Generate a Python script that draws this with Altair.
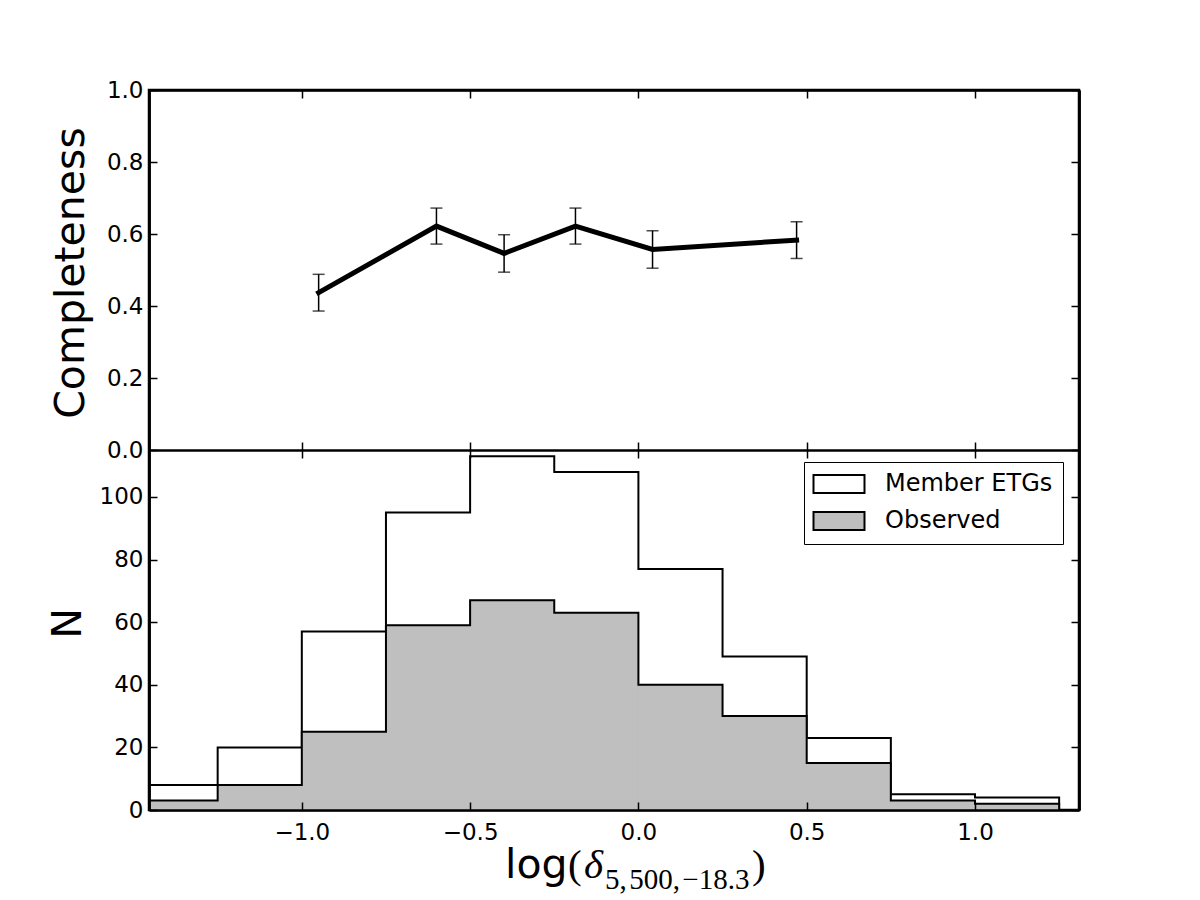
import altair as alt
import pandas as pd

# Histogram of log density: bin edges and counts per bin
bin_edges = [-1.5, -1.25, -1.0, -0.75, -0.5, -0.25, 0.0, 0.25, 0.5, 0.75, 1.0, 1.25]
member_counts = [8, 20, 57, 95, 113, 108, 77, 49, 23, 5, 4]
observed_counts = [3, 8, 25, 59, 67, 63, 40, 30, 15, 3, 2]
series_names = ["Member ETGs", "Observed"]
series_fills = ["white", "#bfbfbf"]

# Completeness as a function of density, with errors
comp_x = [-0.950, -0.600, -0.399, -0.187, 0.042, 0.470]
comp_y = [0.437, 0.622, 0.546, 0.622, 0.557, 0.583]
comp_err = [0.051, 0.050, 0.052, 0.050, 0.052, 0.051]

x_ticks = [-1.0, -0.5, 0.0, 0.5, 1.0]
comp_ticks = [0.0, 0.2, 0.4, 0.6, 0.8, 1.0]
count_ticks = [0, 20, 40, 60, 80, 100]

W, H = 930, 720
HALF = H / 2
FONT = "DejaVu Sans"
SERIF = "Liberation Serif"
TICK_FONT_SIZE = 23

x_scale = alt.Scale(domain=[-1.454, 1.309], nice=False, zero=False)
comp_scale = alt.Scale(domain=[-1.0, 1.0], nice=False, zero=False)   # upper half holds 0..1
count_scale = alt.Scale(domain=[0, 230], nice=False, zero=True)      # lower half holds 0..115
fill_scale = alt.Scale(domain=series_names, range=series_fills)


def tick_axis(orient, offset, values, domain=True):
    # tick-only axis, shifted so its ticks point into the frame; its domain line
    # redraws the frame edge above the histogram fills
    return alt.Axis(orient=orient, offset=offset, values=values, labels=False, ticks=True,
                    tickSize=8, tickWidth=1.5, tickColor="black", domain=domain,
                    domainColor="black", domainWidth=2.5, grid=False, title=None, zindex=1)


def label_axis(orient, values, fmt, padding, **kw):
    return alt.Axis(orient=orient, values=values, format=fmt, ticks=False, domain=False,
                    grid=False, labelFont=FONT, labelFontSize=TICK_FONT_SIZE, labelColor="black",
                    labelPadding=padding, zindex=1, **kw)


def y_title(text, tx, ty):
    return dict(title=text, titleX=tx, titleY=ty, titleAngle=270, titleAlign="center",
                titleBaseline="alphabetic", titleFont=FONT, titleFontSize=41,
                titleFontWeight="normal", titleColor="black")


def outline(name, counts):
    # closed step path around a histogram
    xs = [bin_edges[0]] + bin_edges[:-1] + [bin_edges[-1], bin_edges[-1]]
    ns = [0] + counts + [counts[-1], 0]
    return pd.DataFrame({"series": name, "x": xs, "n": ns, "order": range(len(xs))})


def bins(name, counts):
    return pd.DataFrame({"series": name, "left": bin_edges[:-1], "right": bin_edges[1:],
                         "n": counts, "base": [0] * len(counts)})


legend = alt.Legend(orient="none", legendX=655, legendY=372, title=None, direction="vertical",
                    symbolType="M-2.833,-1H2.833V1H-2.833Z", symbolSize=324, symbolOffset=13,
                    symbolStrokeColor="black", symbolStrokeWidth=2, symbolOpacity=1,
                    labelFont=FONT, labelFontSize=24, labelColor="black", labelOffset=34,
                    labelLimit=400, padding=10, rowPadding=11, strokeColor="black",
                    fillColor="white", zindex=1)

comp_df = pd.DataFrame({
    "x": comp_x,
    "c": comp_y,
    "lo": [v - e for v, e in zip(comp_y, comp_err)],
    "hi": [v + e for v, e in zip(comp_y, comp_err)],
})
caps_df = pd.DataFrame({
    "x": comp_x + comp_x,
    "end": list(comp_df["lo"]) + list(comp_df["hi"]),
})

comp_line = alt.Chart(comp_df).mark_line(color="black", strokeWidth=5, strokeCap="square").encode(
    x=alt.X("x:Q", scale=x_scale, axis=tick_axis("bottom", -H, x_ticks)),
    y=alt.Y("c:Q", scale=comp_scale,
            axis=label_axis("left", comp_ticks, ".1f", 6, **y_title("Completeness", -66, 182.5))),
)
comp_bars = alt.Chart(comp_df).mark_rule(color="black", strokeWidth=1.5).encode(
    x=alt.X("x:Q", scale=x_scale, axis=tick_axis("top", -HALF, x_ticks, domain=False)),
    y=alt.Y("lo:Q", scale=comp_scale, axis=tick_axis("right", -W, comp_ticks)),
    y2="hi:Q",
)
comp_caps = alt.Chart(caps_df).mark_tick(orient="horizontal", size=12, thickness=1.5, color="black").encode(
    x=alt.X("x:Q", scale=x_scale, axis=tick_axis("bottom", -HALF, x_ticks)),
    y=alt.Y("end:Q", scale=comp_scale, axis=tick_axis("left", -W, comp_ticks)),
)

member_fill = alt.Chart(bins(series_names[0], member_counts)).mark_rect(
    clip=True, opacity=1, strokeWidth=0
).encode(
    x=alt.X("left:Q", scale=x_scale, axis=label_axis("bottom", x_ticks, ".1f", 11, title=None)),
    x2="right:Q",
    y=alt.Y("n:Q", scale=count_scale,
            axis=label_axis("left", count_ticks, "d", 6, **y_title("N", -69, 533))),
    y2="base:Q",
    fill=alt.Fill("series:N", scale=fill_scale, legend=legend),
)
member_line = alt.Chart(outline(series_names[0], member_counts)).mark_line(
    interpolate="step-after", color="black", strokeWidth=2, clip=True
).encode(
    x=alt.X("x:Q", scale=x_scale, axis=tick_axis("top", -H, x_ticks)),
    y=alt.Y("n:Q", scale=count_scale, axis=tick_axis("right", -W, count_ticks)),
    order=alt.Order("order:Q"),
)
observed_fill = alt.Chart(bins(series_names[1], observed_counts)).mark_rect(
    clip=True, opacity=1, stroke="#bfbfbf", strokeWidth=1
).encode(
    x=alt.X("left:Q", scale=x_scale, axis=None),
    x2="right:Q",
    y=alt.Y("n:Q", scale=count_scale, axis=tick_axis("left", -W, count_ticks)),
    y2="base:Q",
    fill=alt.Fill("series:N", scale=fill_scale, legend=legend),
)
observed_line = alt.Chart(outline(series_names[1], observed_counts)).mark_line(
    interpolate="step-after", color="black", strokeWidth=2, clip=True
).encode(
    x=alt.X("x:Q", scale=x_scale, axis=None),
    y=alt.Y("n:Q", scale=count_scale, axis=None),
    order=alt.Order("order:Q"),
)


def title_piece(text, x, y, size, font, style="normal"):
    return alt.Chart(alt.Data(values=[{}])).mark_text(
        text=text, x=x, y=y, fontSize=size, font=font, fontStyle=style,
        align="left", baseline="alphabetic", color="black")


x_title = [
    title_piece("log", 356, 788, 41, FONT),
    title_piece("(", 419, 788, 41, SERIF),
    title_piece("δ", 435, 788, 41, SERIF, "italic"),
    title_piece("5,\u200a500,\u200a\u221218.3", 456, 799, 29, SERIF),
    title_piece(")", 603, 788, 41, SERIF),
]

chart = alt.layer(
    member_fill, member_line, observed_fill, observed_line,
    comp_line, comp_bars, comp_caps, *x_title,
).resolve_scale(
    x="independent", y="independent"
).properties(
    width=W, height=H,
    autosize=alt.AutoSizeParams(type="none"),
    padding={"left": 149, "top": 90, "right": 121, "bottom": 90},
    background="white",
).configure_view(
    stroke="black", strokeWidth=2.5
)

chart.save("out.html", embed_options={"renderer": "svg", "actions": False})
